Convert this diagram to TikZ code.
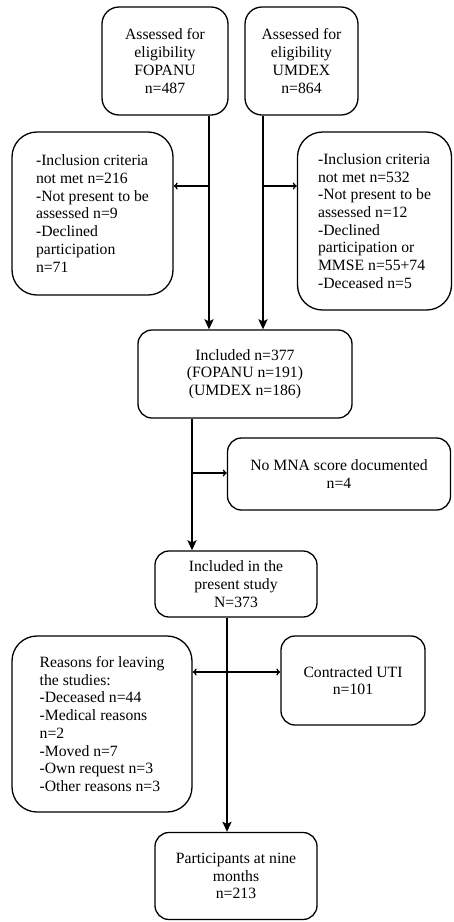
\documentclass[tikz,border=0pt]{standalone}
\usepackage{fontspec}
\setmainfont{Liberation Serif}
\usetikzlibrary{arrows.meta}
\begin{document}
\begin{tikzpicture}[x=1pt,y=-1pt,
 box/.style={draw, line width=1.3pt, rounded corners=#1, align=center, inner sep=0pt,
   font=\fontsize{15.7}{17.7}\selectfont},
 box/.default=14pt,
 lbox/.style={box=#1, align=left},
 lbox/.default=25pt,
 varr/.style={line width=1.8pt, -{Stealth[length=10pt,width=9pt,inset=2pt]}},
 harr/.style={line width=1.3pt, -{To[length=4pt,width=7pt]}},
 darr/.style={line width=1.3pt, {To[length=4pt,width=7pt]}-{To[length=4pt,width=7pt]}}]
\useasboundingbox (0,0) rectangle (453,922);
\node[box=17pt, minimum width=126pt, minimum height=108pt] (fop) at (165,61) {Assessed for\\eligibility\\FOPANU\\n=487};
\node[box=17pt, minimum width=113pt, minimum height=108pt] (umd) at (301.5,61) {Assessed for\\eligibility\\UMDEX\\n=864};
\node[lbox, minimum width=161pt, minimum height=163pt] (exl) at (92.5,213.5) {-Inclusion criteria\\not met n=216\\-Not present to be\\assessed n=9\\-Declined\\participation\\n=71};
\node[lbox, minimum width=154pt, minimum height=178pt] (exr) at (374.5,221) {-Inclusion criteria\\not met n=532\\-Not present to be\\assessed n=12\\-Declined\\participation or\\MMSE n=55+74\\-Deceased n=5};
\node[box, minimum width=214pt, minimum height=88pt] (inc) at (245,374) {Included n=377\\(FOPANU n=191)\\(UMDEX n=186)};
\node[box, minimum width=223pt, minimum height=72pt] (nom) at (339,474) {No MNA score documented\\n=4};
\node[box, minimum width=162pt, minimum height=66pt] (pres) at (236,584) {Included in the\\present study\\N=373};
\node[lbox, minimum width=180pt, minimum height=176pt] (reas) at (102,724) {Reasons for leaving\\the studies:\\-Deceased n=44\\-Medical reasons\\n=2\\-Moved n=7\\-Own request n=3\\-Other reasons n=3};
\node[box, minimum width=144pt, minimum height=89pt] (uti) at (353,680.5) {Contracted UTI\\n=101};
\node[box, minimum width=162pt, minimum height=87pt] (part) at (236,876) {Participants at nine\\months\\n=213};
\coordinate (xl) at (209,0);
\coordinate (xr) at (263,0);
\coordinate (bl) at (209,186);
\coordinate (br) at (263,186);
\coordinate (xm) at (192,0);
\coordinate (bm) at (192,473);
\coordinate (xb) at (227,0);
\coordinate (bb) at (227,672);
\draw[varr] (fop.south -| xl) -- (inc.north -| xl);
\draw[varr] (umd.south -| xr) -- (inc.north -| xr);
\draw[harr] (bl) -- (bl -| exl.east);
\draw[harr] (br) -- (br -| exr.west);
\draw[varr] (inc.south -| xm) -- (pres.north -| xm);
\draw[harr] (bm) -- (bm -| nom.west);
\draw[varr] (pres.south -| xb) -- (part.north -| xb);
\draw[darr] (bb -| reas.east) -- (bb -| uti.west);
\end{tikzpicture}
\end{document}
